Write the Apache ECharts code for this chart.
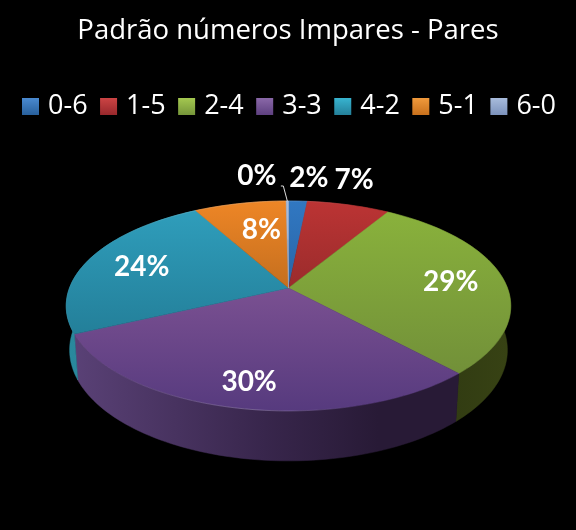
<!DOCTYPE html>
<html><head><meta charset="utf-8">
<style>html,body{margin:0;padding:0;background:#000}#c{width:576px;height:530px}</style>
<script src="https://cdn.jsdelivr.net/npm/echarts@6/dist/echarts.min.js"></script>
</head><body><div id="c"></div>
<script>
const titleText = 'Padrão números Impares - Pares';
const categories = ['0-6','1-5','2-4','3-3','4-2','5-1','6-0'];
const values = [1.6,7.1,29.4,30.0,23.8,7.9,0.2];
const topLight = ['#3178c2','#bc3434','#8bb43c','#94609f','#30a0be','#ee8626','#a8bcdc'];
const topDark  = ['#1e4a80','#6a2020','#6c8838','#563a7e','#1c6c84','#8a4e14','#8ea4c8'];
const wallLeft  = ['#1a3a60','#5a1a1a','#2a3310','#5c4379','#2a8a9e','#80450c','#506080'];
const wallMid   = ['#1a3a60','#5a1a1a','#2a3310','#38264c','#1f7488','#80450c','#506080'];
const wallRight = ['#1a3a60','#5a1a1a','#2a3310','#281a36','#1f7488','#80450c','#506080'];
const wallEnd   = ['#1a3a60','#5a1a1a','#384314','#281a36','#1f7488','#80450c','#506080'];
const legendLight = ['#4a8ad0','#cc4444','#a4c850','#8a68a8','#38b4d0','#f09a3c','#a8bcdc'];
const legendDark  = ['#28609c','#98282c','#76963a','#5e4080','#24809a','#c8701c','#7c92bc'];
const labelRadius = [1.344,1.373,0.754,0.804,0.732,0.669,1.395];
const labelTurn = [2,-3,0,0,0,3,-7];

const CX=288.5, CY=288, A=219, B=101.9, P=0.171, C=44, Q=0.015;
const total = values.reduce((a,b)=>a+b,0);
const startShare = []; values.reduce((s,v,i)=>{startShare[i]=s;return s+v/total;},0);
function pt(deg,r,low){
  const t=deg*Math.PI/180,u=r*Math.sin(t),v=-r*Math.cos(t);
  const w=1-P*v+(low?Q:0);
  return [CX+A*u/w, CY+(B*v+(low?C:0))/w];
}
function arc(a0,a1,r,low){
  const n=Math.max(2,Math.ceil(Math.abs(a1-a0)/1.5)),o=[];
  for(let k=0;k<=n;k++)o.push(pt(a0+(a1-a0)*k/n,r,low));
  return o;
}
const range=(i,val)=>{const a0=startShare[i]*360;return [a0,a0+val/total*360];};
const grad=(x0,y0,x1,y1,st)=>new echarts.graphic.LinearGradient(x0,y0,x1,y1,st,true);

const wallSeries={
  type:'custom',name:'walls',coordinateSystem:'none',silent:true,z:1,
  data:values.map(v=>[v]),
  renderItem(p,api){
    const i=p.dataIndex,[a0,a1]=range(i,api.value(0));
    const pts=arc(a0,a1,1,false).concat(arc(a0,a1,1,true).reverse());
    const f=grad(60,0,515,0,[{offset:0,color:wallLeft[i]},{offset:.45,color:wallMid[i]},{offset:.7,color:wallRight[i]},{offset:1,color:wallEnd[i]}]);
    return {type:'polygon',shape:{points:pts},style:{fill:f,stroke:f,lineWidth:.5}};
  }
};
const topSeries=categories.map((name,i)=>({
  type:'custom',name,coordinateSystem:'none',silent:true,z:2,
  itemStyle:{color:topLight[i]},
  data:[[values[i]]],
  renderItem(p,api){
    const [a0,a1]=range(i,api.value(0));
    const pts=[[CX,CY]].concat(arc(a0,a1,1,false));
    const f=grad(0,200,0,412,[{offset:0,color:topLight[i]},{offset:1,color:topDark[i]}]);
    const rim=grad(100,0,360,0,[{offset:0,color:'rgba(255,255,255,0.03)'},{offset:.6,color:'rgba(255,255,255,0.22)'},{offset:1,color:'rgba(255,255,255,0)'}]);
    return {type:'group',children:[
      {type:'polygon',shape:{points:pts},style:{fill:f,stroke:f,lineWidth:.5}},
      {type:'polyline',shape:{points:arc(a0,a1,1,false)},style:{stroke:rim,lineWidth:1,fill:null}}
    ]};
  }
}));
const labelSeries={
  type:'custom',name:'labels',coordinateSystem:'none',silent:true,z:3,
  data:values.map(v=>[v]),
  renderItem(p,api){
    const i=p.dataIndex,val=api.value(0),[a0,a1]=range(i,val);
    const mid=(a0+a1)/2,q=pt(mid+labelTurn[i],labelRadius[i],false);
    const kids=[{type:'text',style:{x:q[0],y:q[1]+1.5,text:Math.round(val/total*100)+'%',fill:'#fff',
      font:'bold 28px Lato, "Open Sans", sans-serif',textAlign:'center',textVerticalAlign:'middle'}}];
    if(labelRadius[i]>1.38){
      const e=pt(mid,1,false);
      kids.push({type:'polyline',shape:{points:[[q[0]+24,q[1]+12],[e[0]-4,q[1]+12],e]},style:{stroke:'#ddd',lineWidth:1,fill:null}});
    }
    return {type:'group',children:kids};
  }
};
const chart=echarts.init(document.getElementById('c'));
chart.setOption({
  animation:false,backgroundColor:'#000',
  title:{text:titleText,left:'center',top:12,textStyle:{color:'#fff',fontFamily:'"Open Sans", Lato, sans-serif',fontWeight:'normal',fontSize:27.5}},
  legend:{top:88,left:17,itemWidth:17,itemHeight:17,itemGap:12.5,icon:'rect',
    textStyle:{color:'#fff',fontSize:27,fontFamily:'"Open Sans", Lato, sans-serif',padding:[0,0,0,4]},
    data:categories.map((name,i)=>({name,itemStyle:{color:new echarts.graphic.LinearGradient(0,0,0,1,[{offset:0,color:legendLight[i]},{offset:1,color:legendDark[i]}])}}))},
  series:[wallSeries,...topSeries,labelSeries]
});
</script></body></html>
